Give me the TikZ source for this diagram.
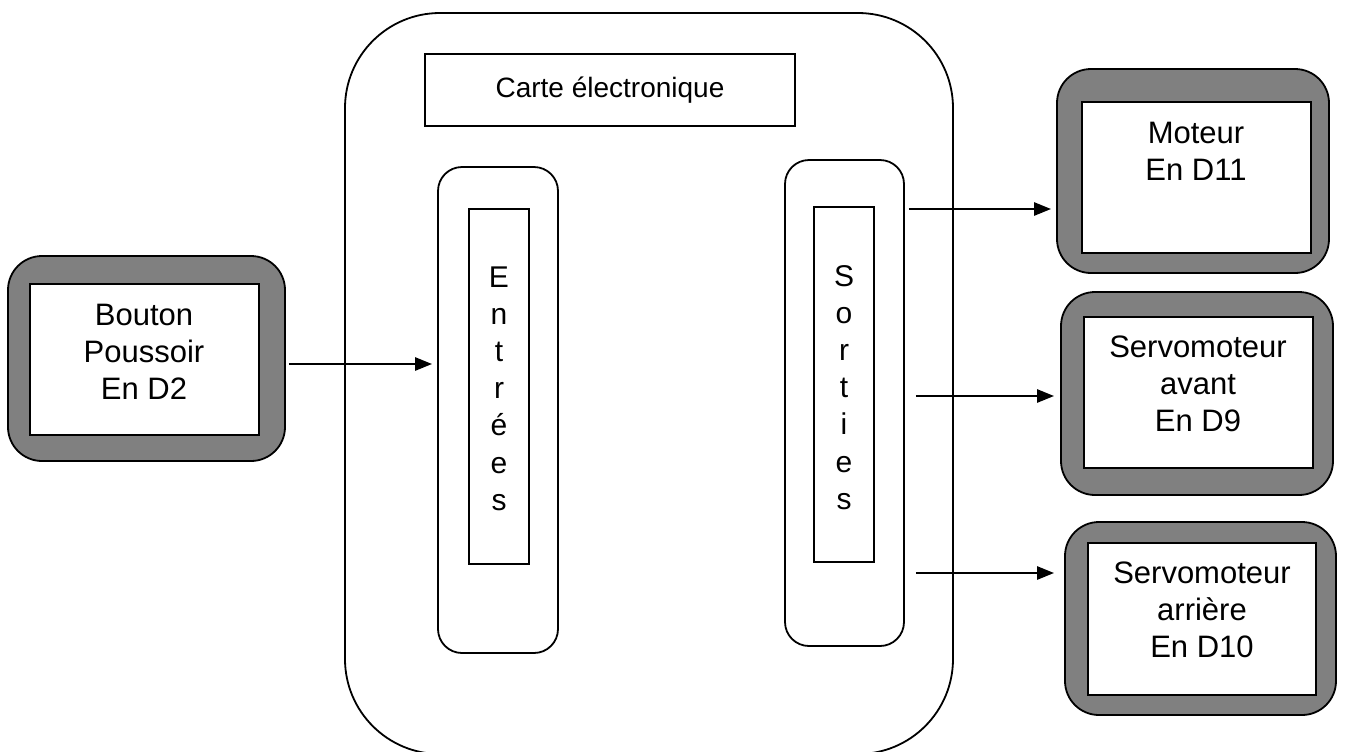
\documentclass[tikz,border=0pt]{standalone}
\usepackage{fontspec}
\setmainfont{Liberation Sans}
\usetikzlibrary{arrows.meta}
\definecolor{gris}{HTML}{808080}

\begin{document}
\begin{tikzpicture}[x=0.5pt,y=-0.5pt,
  trait/.style={draw,line width=0.9pt,inner sep=0pt},
  cadre/.style={trait,fill=gris,rounded corners=17pt},
  fenetre/.style={trait,fill=white},
  lettre/.style={anchor=base,inner sep=0pt,font=\fontsize{15}{18}\selectfont},
  texte/.style={align=center,inner sep=0pt,font=\fontsize{15.5}{18.4}\selectfont},
  fleche/.style={line width=1.3pt,-{Triangle[length=8.5pt,width=6.5pt]}}]
\useasboundingbox (0,0) rectangle (1346,751);

\node[trait,rounded corners=47.5pt,minimum width=304pt,minimum height=370.5pt](carte) at (649,383.5) {};
\node[trait,minimum width=185pt,minimum height=36pt,font=\fontsize{14}{17}\selectfont](titre) at (610,90) {Carte électronique};

\node[trait,rounded corners=12pt,minimum width=60pt,minimum height=243pt](entrees) at (498,410) {};
\node[trait,minimum width=30pt,minimum height=177.5pt](entreesint) at (499,386.5) {};
\node[trait,rounded corners=12pt,minimum width=59.5pt,minimum height=243pt](sorties) at (844.5,403) {};
\node[trait,minimum width=30pt,minimum height=177.5pt](sortiesint) at (844,384.5) {};
\foreach \l [count=\i] in {E,n,t,r,é,e,s}
  \node[lettre](ent\i) at (499,{287+37.2*(\i-1)}) {\l};
\foreach \l [count=\i] in {S,o,r,t,i,e,s}
  \node[lettre](sor\i) at (844,{286+37.2*(\i-1)}) {\l};

\node[cadre,minimum width=138.5pt,minimum height=102.5pt](bouton) at (146.5,358.5) {};
\node[fenetre,minimum width=114.5pt,minimum height=75.5pt](boutonint) at (144.5,359.5) {};
\node[texte](boutontxt) at (144,352) {Bouton\\Poussoir\\En D2};

\node[cadre,minimum width=136pt,minimum height=102pt](moteur) at (1193,171) {};
\node[fenetre,minimum width=114.5pt,minimum height=75.5pt](moteurint) at (1196.5,177.5) {};
\node[texte](moteurtxt) at (1196,151.5) {Moteur\\En D11};

\node[cadre,minimum width=136pt,minimum height=101.5pt](avant) at (1197,393.5) {};
\node[fenetre,minimum width=114.5pt,minimum height=75.5pt](avantint) at (1198.5,392.5) {};
\node[texte](avanttxt) at (1198,384) {Servomoteur\\avant\\En D9};

\node[cadre,minimum width=135.5pt,minimum height=96.5pt](arriere) at (1200.5,618.5) {};
\node[fenetre,minimum width=114pt,minimum height=76pt](arriereint) at (1202,619) {};
\node[texte](arrieretxt) at (1202,610) {Servomoteur\\arrière\\En D10};

\coordinate (b1) at ([yshift=-2.75pt]bouton.east);
\coordinate (m1) at ([yshift=-19pt]moteur.west);
\coordinate (a1) at ([yshift=-1.25pt]avant.west);
\coordinate (r1) at ([yshift=22.75pt]arriere.west);
\draw[fleche,shorten <=1.5pt,shorten >=2.5pt] (b1) -- (b1 -| entrees.west);
\draw[fleche,shorten <=2pt,shorten >=2.5pt] (m1 -| sorties.east) -- (m1);
\draw[fleche,shorten <=5.5pt,shorten >=3pt] (a1 -| sorties.east) -- (a1);
\draw[fleche,shorten <=5.5pt,shorten >=5pt] (r1 -| sorties.east) -- (r1);

\end{tikzpicture}
\end{document}
